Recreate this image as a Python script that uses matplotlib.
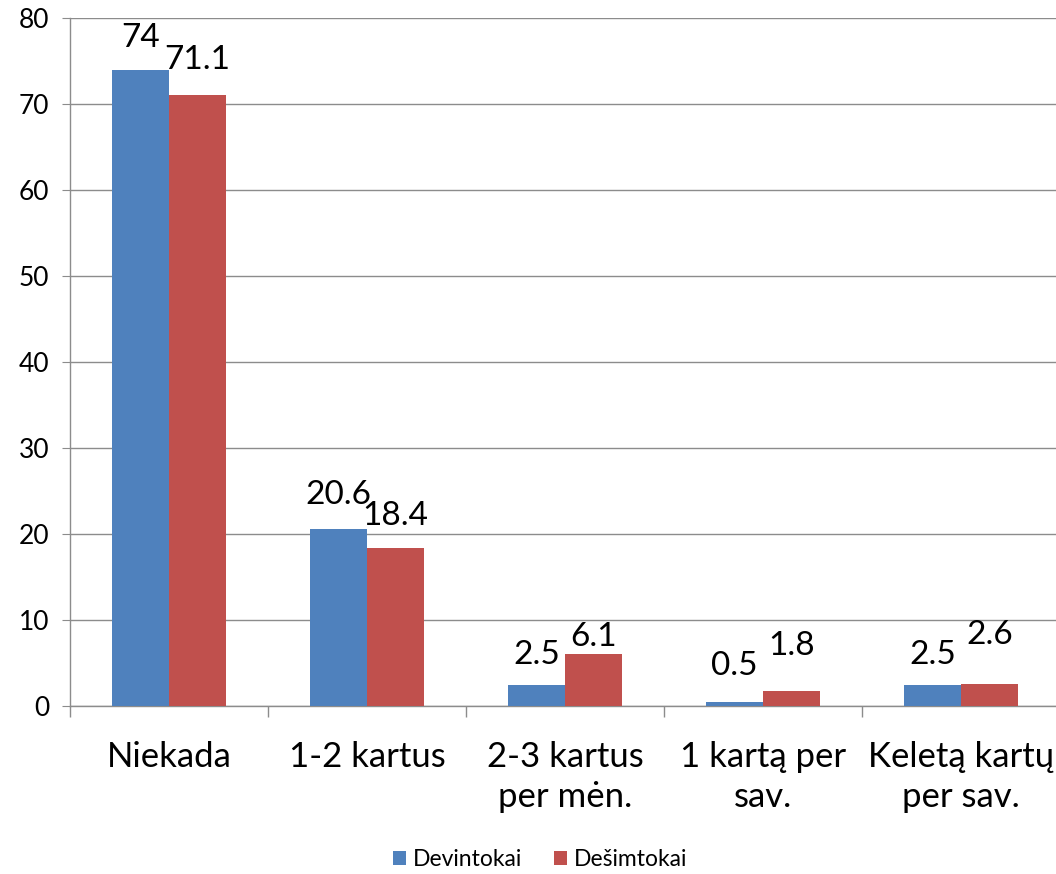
import matplotlib
matplotlib.use("Agg")
import matplotlib.pyplot as plt
import numpy as np

categories = ["Niekada", "1-2 kartus", "2-3 kartus\nper mėn.", "1 kartą per\nsav.", "Keletą kartų\nper sav."]
devintokai = [74, 20.6, 2.5, 0.5, 2.5]
desimtokai = [71.1, 18.4, 6.1, 1.8, 2.6]
series_names = ["Devintokai", "Dešimtokai"]
y_ticks = [0, 10, 20, 30, 40, 50, 60, 70, 80]

# label centre offsets above bar tops (pixels), as placed in the original
_OFFSETS_BLUE = (32, 34, 29, 36, 29)
_OFFSETS_RED = (35, 32, 17, 45, 49)

_BLUE = "#4F81BD"
_RED = "#C0504D"
_GRID = "#8C8C8C"
_FONT = "Lato"

plt.rcParams["font.family"] = [_FONT, "DejaVu Sans"]

fig = plt.figure(figsize=(10.56, 8.74), dpi=100)
ax = fig.add_axes([70 / 1056, 1 - 706 / 874, 990 / 1056, 688 / 874])

x = np.arange(len(categories))
width = 0.288
bars_a = ax.bar(x - width / 2, devintokai, width, color=_BLUE, label=series_names[0], zorder=3)
bars_b = ax.bar(x + width / 2, desimtokai, width, color=_RED, label=series_names[1], zorder=3)

for bars, vals, offs in ((bars_a, devintokai, _OFFSETS_BLUE), (bars_b, desimtokai, _OFFSETS_RED)):
    for rect, val, off in zip(bars, vals, offs):
        ax.annotate(
            f"{val:g}",
            xy=(rect.get_x() + rect.get_width() / 2, rect.get_height()),
            xytext=(0, off * 0.72),
            textcoords="offset points",
            ha="center",
            va="center",
            fontsize=24,
            color="black",
            zorder=4,
        )

ax.set_xlim(-0.5, len(categories) - 0.5)
ax.set_ylim(0, 80)
ax.set_yticks(y_ticks)
ax.tick_params(axis="y", labelsize=19, length=6, color=_GRID, pad=9)

ax.set_xticks(x)
ax.set_xticklabels(categories, fontsize=25, linespacing=1.3)
ax.tick_params(axis="x", which="major", length=0, pad=25)
ax.set_xticks(np.arange(len(categories) + 1) - 0.5, minor=True)
ax.tick_params(axis="x", which="minor", length=8, color=_GRID, width=1)

ax.grid(axis="y", color=_GRID, linewidth=1, zorder=0)
ax.set_axisbelow(True)
for side in ("top", "right"):
    ax.spines[side].set_visible(False)
for side in ("left", "bottom"):
    ax.spines[side].set_color(_GRID)
    ax.spines[side].set_linewidth(1)

fig.legend(
    handles=[bars_a, bars_b],
    labels=series_names,
    loc="center",
    bbox_to_anchor=(540 / 1056, 1 - 860 / 874),
    ncol=2,
    frameon=False,
    fontsize=16.5,
    handlelength=0.55,
    handleheight=0.55,
    handletextpad=0.3,
    columnspacing=1.4,
)

fig.savefig("out.png", dpi=100, facecolor="white")
